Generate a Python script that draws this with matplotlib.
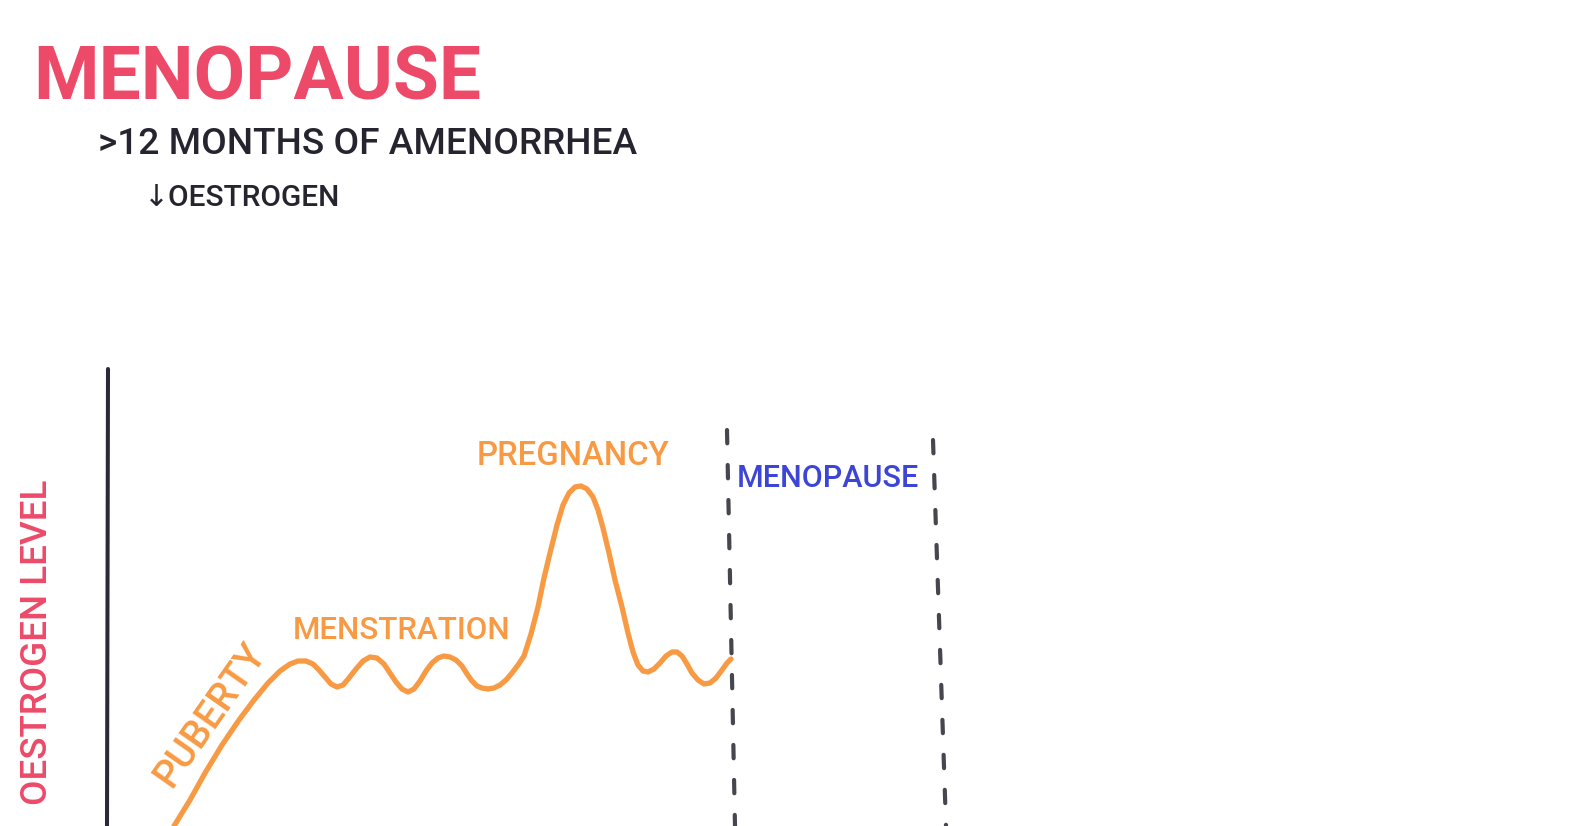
import matplotlib
matplotlib.use("Agg")
import matplotlib.pyplot as plt

# colours read from the board
RED = "#ec4a68"
DARK = "#25242f"
ORANGE = "#f89a43"
BLUE = "#3d45d6"
GREY = "#46464e"

# oestrogen curve (x = time, y = level in image rows)
curve_x = [174, 190, 205, 222, 239, 254, 268, 280, 290, 298, 306, 313, 319, 325,
           331, 337, 343, 349, 356, 363, 370, 377, 384, 390, 396, 402, 408, 414,
           420, 426, 432, 438, 444, 450, 456, 462, 467, 472, 477, 482, 488, 494,
           500, 506, 512, 518, 524, 531, 538, 544, 550, 557, 563, 569, 575, 581,
           587, 593, 598, 603, 609, 615, 622, 628, 633, 638, 643, 648, 654, 660,
           666, 672, 677, 682, 687, 692, 698, 704, 710, 716, 722, 727, 731]
curve_y = [826, 800, 773, 745, 720, 700, 683, 671, 664, 661, 661, 664, 670, 677,
           684, 687, 685, 678, 669, 661, 657, 658, 664, 673, 682, 689, 692, 689,
           681, 671, 663, 658, 656, 657, 660, 666, 674, 681, 686, 688, 689, 688,
           685, 680, 673, 665, 656, 634, 607, 578, 553, 525, 505, 493, 487, 486,
           489, 497, 510, 528, 553, 580, 607, 633, 652, 665, 671, 672, 669, 663,
           656, 652, 652, 656, 664, 673, 680, 684, 683, 678, 670, 663, 659]

# axis and the two dashed boundaries of the menopause window
axis_x = [108, 107]
axis_y = [369, 826]
left_dash_x = [727, 735]
left_dash_y = [430, 826]
right_dash_x = [933, 946]
right_dash_y = [440, 826]

fig = plt.figure(figsize=(15.84, 8.26), dpi=100)
ax = fig.add_axes([0, 0, 1, 1])
ax.set_xlim(0, 1584)
ax.set_ylim(826, 0)
ax.axis("off")
fig.patch.set_facecolor("white")

FAMILY = ["Roboto", "DejaVu Sans"]
renderer = fig.canvas.get_renderer()


def fit_text(x, y, s, width, color, ha="left", va="baseline", rotation=0, weight="medium"):
    # size the text so that its length matches the hand lettering
    t = ax.text(x, y, s, color=color, fontsize=20, family=FAMILY, weight=weight,
                ha=ha, va=va)
    w = t.get_window_extent(renderer).width
    t.set_fontsize(20 * width / w)
    t.set_rotation(rotation)
    t.set_rotation_mode("anchor")
    return t


fit_text(33, 100, "MENOPAUSE", 447, RED, weight="bold")
fit_text(98, 154, ">12 MONTHS OF AMENORRHEA", 536, DARK)
fit_text(144, 206, "\u2193OESTROGEN", 196, DARK)
fit_text(38, 642, "OESTROGEN LEVEL", 325, RED, ha="center", va="center",
         rotation=90)
fit_text(210, 715, "PUBERTY", 166, ORANGE, ha="center", va="center",
         rotation=55)
fit_text(293, 639, "MENSTRATION", 217, ORANGE)
fit_text(477, 465, "PREGNANCY", 192, ORANGE)
fit_text(737, 487, "MENOPAUSE", 182, BLUE)

ax.plot(axis_x, axis_y, color="#2a2938", lw=2.9, solid_capstyle="round")
for xs, ys in [(left_dash_x, left_dash_y), (right_dash_x, right_dash_y)]:
    ax.plot(xs, ys, color=GREY, lw=3.0, linestyle=(0, (3.2, 5.2)),
            dash_capstyle="round")
ax.plot(curve_x, curve_y, color=ORANGE, lw=3.8, solid_capstyle="round",
        solid_joinstyle="round")

fig.savefig("out.png", dpi=100, facecolor="white")
